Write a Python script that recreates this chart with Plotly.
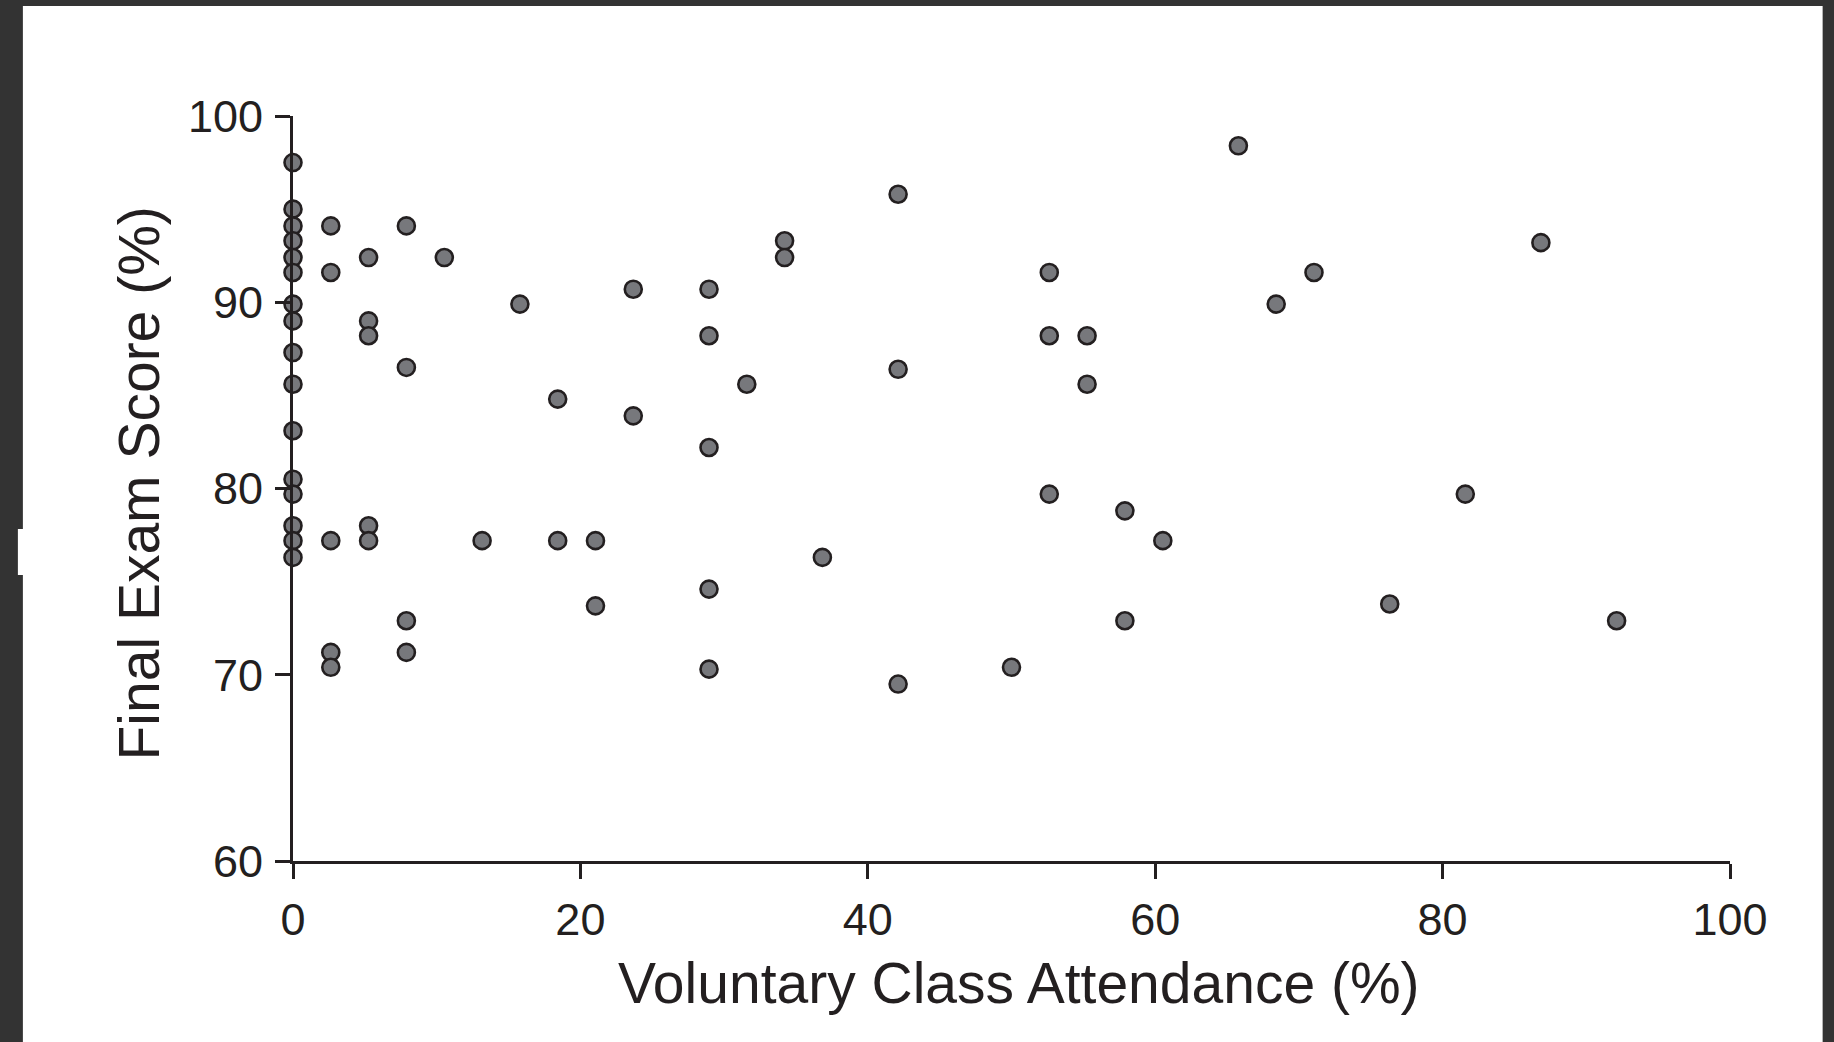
import plotly.graph_objects as go

# Voluntary class attendance (%) and final exam score (%) for each student
attendance = [
    0, 0, 0, 0, 0, 0, 0, 0, 0, 0, 0, 0, 0, 0, 0, 0,
    2.63, 2.63, 2.63, 2.63, 2.63,
    5.26, 5.26, 5.26, 5.26, 5.26,
    7.89, 7.89, 7.89, 7.89,
    10.53,
    13.16,
    15.79,
    18.42, 18.42,
    21.05, 21.05,
    23.68, 23.68,
    28.95, 28.95, 28.95, 28.95, 28.95,
    31.58,
    34.21, 34.21,
    36.84,
    42.11, 42.11, 42.11,
    50.0,
    52.63, 52.63, 52.63,
    55.26, 55.26,
    57.89, 57.89,
    60.53,
    65.79,
    68.42,
    71.05,
    76.32,
    81.58,
    86.84,
    92.11,
]
exam_score = [
    97.5, 95.0, 94.1, 93.3, 92.4, 91.6, 89.9, 89.0, 87.3, 85.6, 83.1, 80.5, 79.7, 78.0, 77.2, 76.3,
    94.1, 91.6, 77.2, 71.2, 70.4,
    92.4, 89.0, 88.2, 78.0, 77.2,
    94.1, 86.5, 72.9, 71.2,
    92.4,
    77.2,
    89.9,
    84.8, 77.2,
    77.2, 73.7,
    90.7, 83.9,
    90.7, 88.2, 82.2, 74.6, 70.3,
    85.6,
    93.3, 92.4,
    76.3,
    95.8, 86.4, 69.5,
    70.4,
    91.6, 88.2, 79.7,
    88.2, 85.6,
    78.8, 72.9,
    77.2,
    98.4,
    89.9,
    91.6,
    73.8,
    79.7,
    93.2,
    72.9,
]

x_ticks = [0, 20, 40, 60, 80, 100]
y_ticks = [60, 70, 80, 90, 100]
x_title = "Voluntary Class Attendance (%)"
y_title = "Final Exam Score (%)"

INK = "#231f20"
FONT = "Liberation Sans, Arial, sans-serif"

fig = go.Figure()
fig.add_trace(go.Scatter(
    x=attendance, y=exam_score, mode="markers",
    marker=dict(size=17, color="#77787c", line=dict(color=INK, width=2.6)),
    hoverinfo="x+y", showlegend=False, cliponaxis=False,
))

axis_common = dict(
    showgrid=False, zeroline=False, showline=True, linecolor=INK, linewidth=2.8,
    ticks="outside", ticklen=15, tickwidth=2.8, tickcolor=INK,
    tickfont=dict(family=FONT, size=45, color=INK),
)
fig.update_xaxes(range=[0, 100], tickvals=x_ticks, ticklabelstandoff=2, **axis_common)
fig.update_yaxes(range=[60, 100], tickvals=y_ticks, ticklabelstandoff=3, **axis_common)

# axis titles
fig.add_annotation(text=x_title, xref="paper", yref="paper", x=0.5, y=0,
                   xanchor="center", yanchor="middle", xshift=7, yshift=-122,
                   showarrow=False, font=dict(family=FONT, size=57, color=INK))
fig.add_annotation(text=y_title, xref="paper", yref="paper", x=0, y=0.5,
                   xanchor="center", yanchor="middle", xshift=-155, yshift=5,
                   textangle=-90, showarrow=False, font=dict(family=FONT, size=57, color=INK))

# dark viewer frame around the white page
fig.add_shape(type="rect", xref="paper", yref="paper", layer="below",
              x0=(23 - 293) / 1436.4, x1=(1822 - 293) / 1436.4,
              y0=-181 / 745.0, y1=(1042 - 181 - 6) / 745.0,
              fillcolor="white", line=dict(width=0))
fig.add_shape(type="rect", xref="paper", yref="paper", layer="below",
              x0=(18 - 293) / 1436.4, x1=(24 - 293) / 1436.4,
              y0=(1042 - 181 - 575) / 745.0, y1=(1042 - 181 - 529) / 745.0,
              fillcolor="white", line=dict(width=0))

fig.update_layout(
    width=1834, height=1042,
    margin=dict(l=293, r=104, t=116, b=181),
    paper_bgcolor="#333333", plot_bgcolor="white",
    font=dict(family=FONT, color=INK),
)

fig.write_html("out.html")
